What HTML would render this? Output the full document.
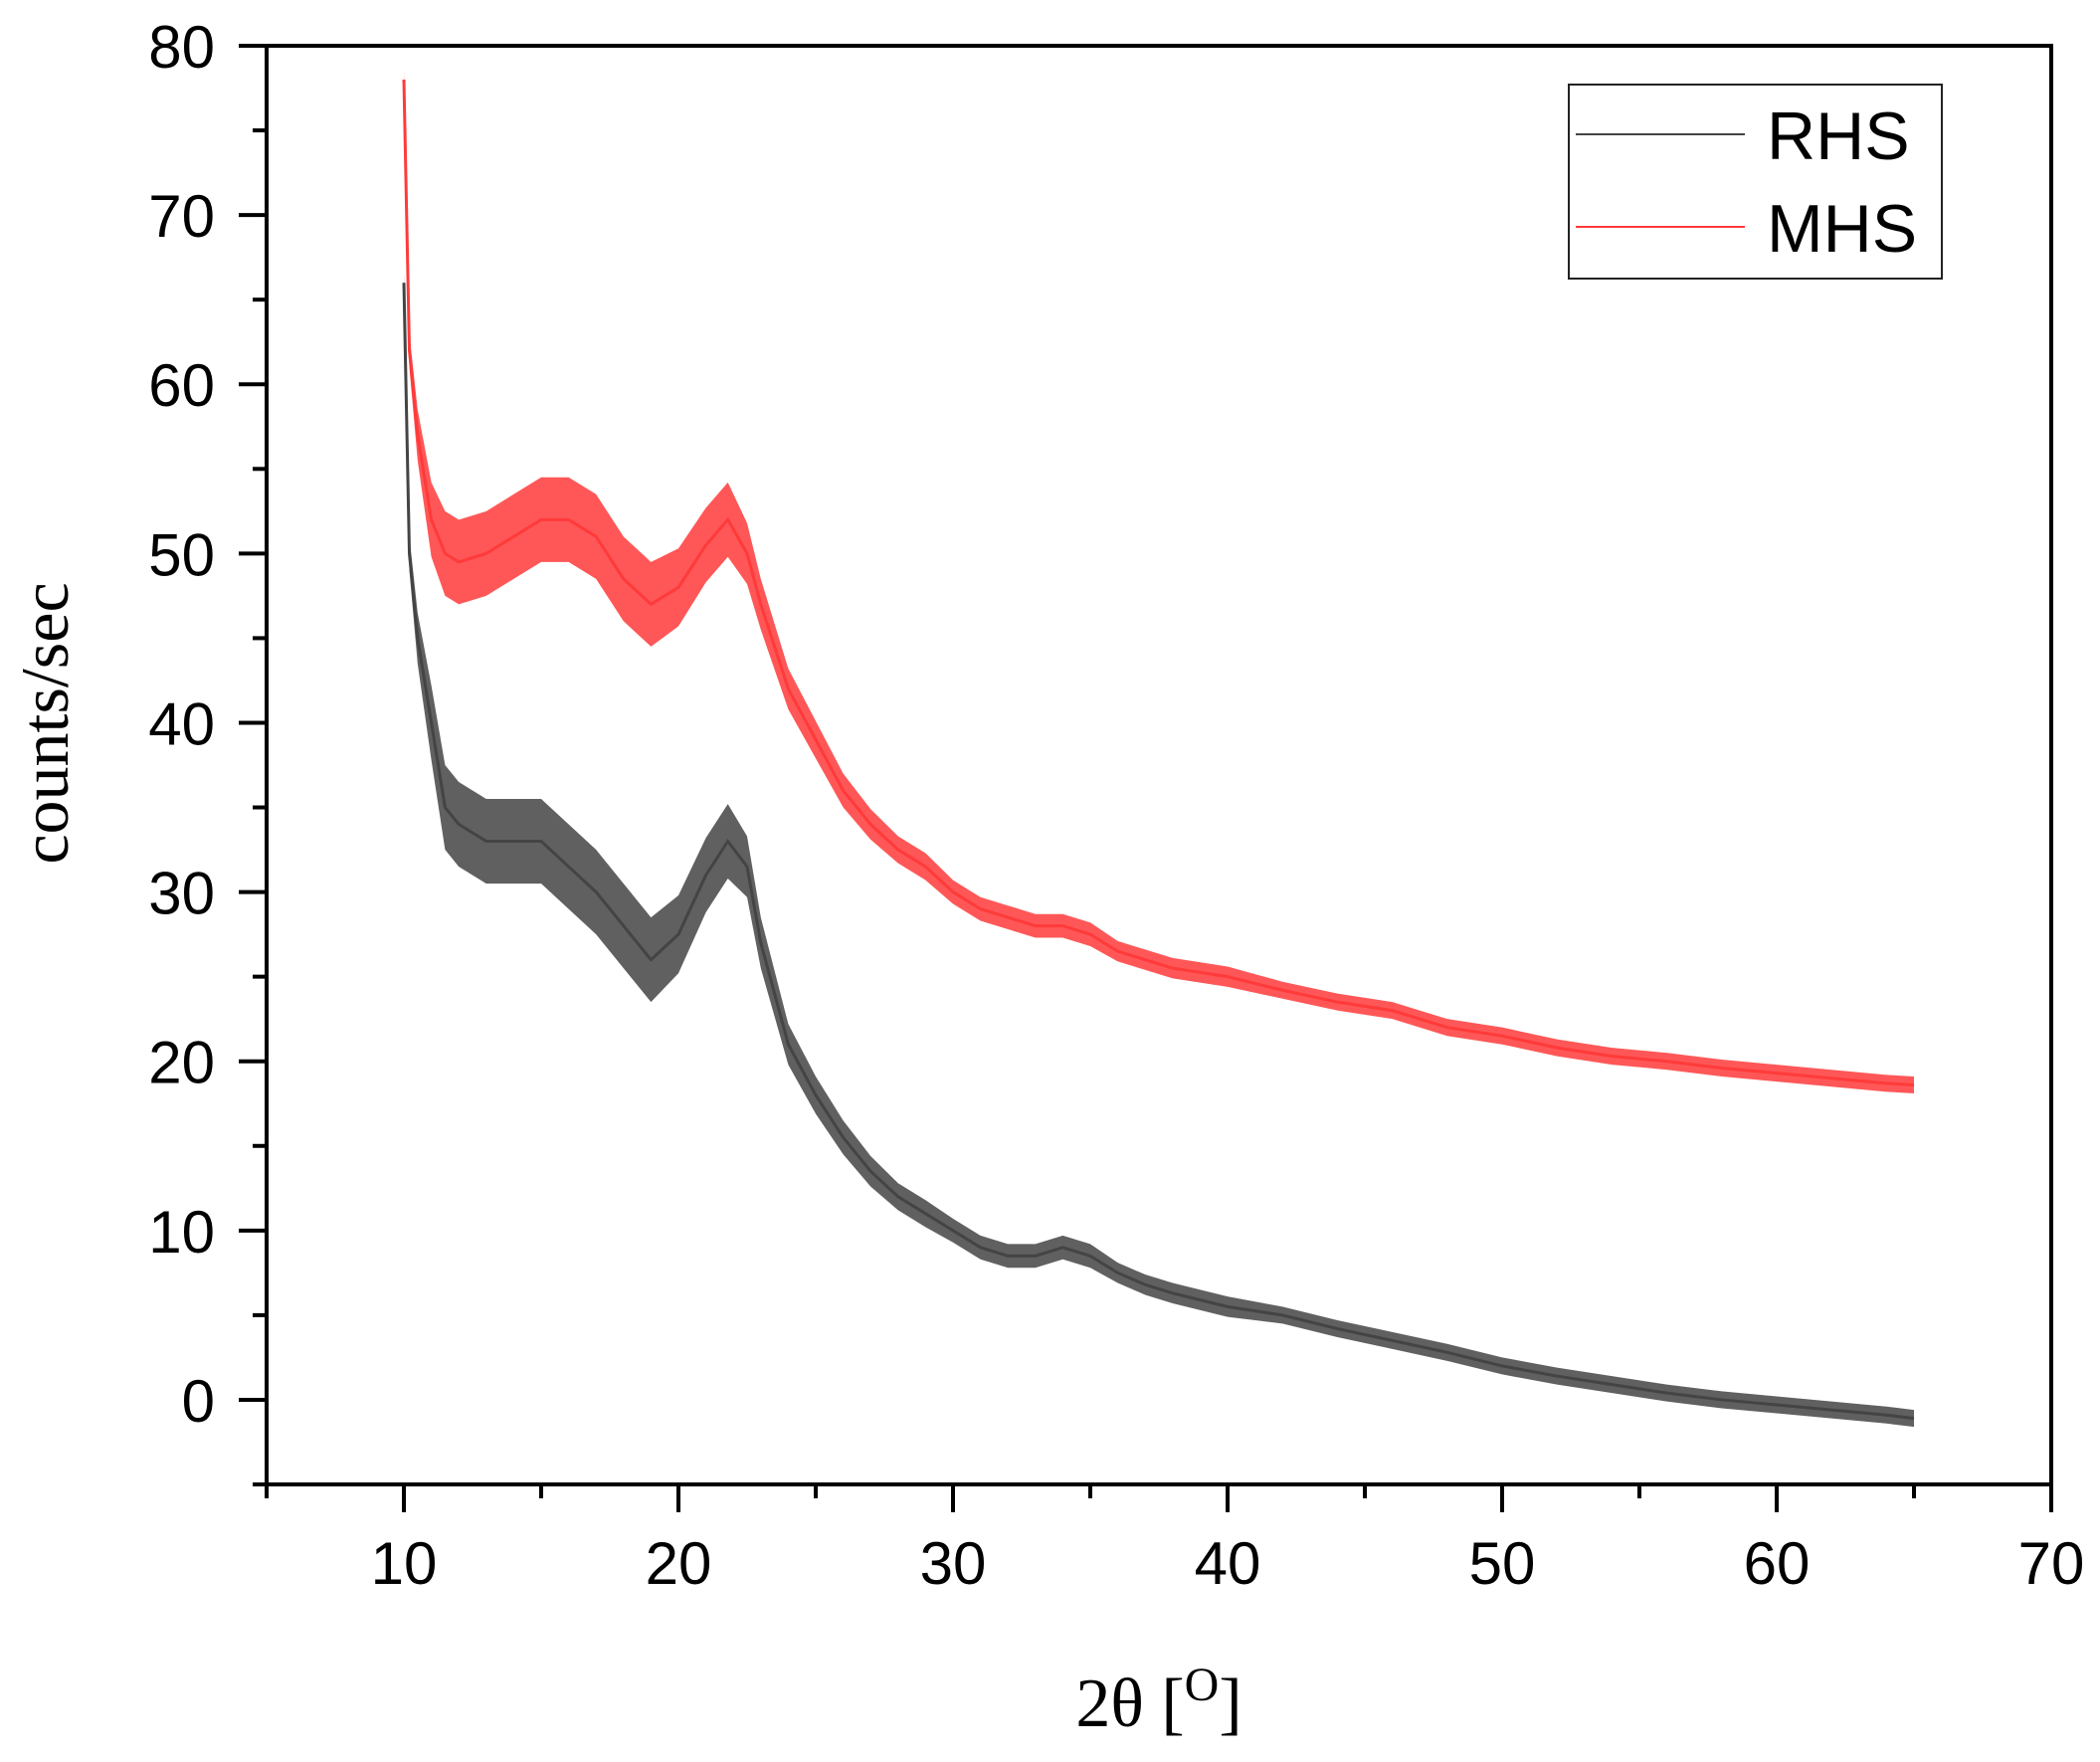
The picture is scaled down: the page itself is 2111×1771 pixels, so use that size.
<!DOCTYPE html>
<html><head><meta charset="utf-8"><style>
html,body{margin:0;padding:0;background:#fff}
svg{display:block}
</style></head><body>
<svg id="chart" width="2111" height="1771" viewBox="0 0 2111 1771" xmlns="http://www.w3.org/2000/svg">
<g id="series"></g>
<g id="axes"></g>
<g>
<rect x="1577" y="85" width="375" height="195" fill="none" stroke="#222" stroke-width="2"/>
<line x1="1584" y1="135" x2="1754" y2="135" stroke="#444" stroke-width="2"/>
<text x="1776" y="160" font-family="Liberation Sans, sans-serif" font-size="68" fill="#000">RHS</text>
<line x1="1584" y1="228" x2="1754" y2="228" stroke="#ff3a3a" stroke-width="2"/>
<text x="1776" y="253" font-family="Liberation Sans, sans-serif" font-size="68" fill="#000">MHS</text>
</g>
<text transform="translate(68,727) rotate(-90)" text-anchor="middle" font-family="Liberation Serif, serif" font-size="68" fill="#000">counts/sec</text>
<text x="1165" y="1735" text-anchor="middle" font-family="Liberation Serif, serif" font-size="70" fill="#000">2θ [<tspan font-size="48" dy="-26">O</tspan><tspan dy="26">]</tspan></text>
</svg>
<script>
const xTicks = [10,20,30,40,50,60,70];
const yTicks = [0,10,20,30,40,50,60,70,80];
const xs = [10,10.2,10.5,11,11.5,12,13,14,15,16,17,18,19,20,21,21.8,22.5,23,24,25,26,27,28,29,30,31,32,33,34,35,36,37,38,40,42,44,46,48,50,52,54,56,58,60,62,64,65];
const rhs = [66,50,45,40,35,34,33,33,33,31.5,30,28,26,27.5,31,33,31.5,27,21,18,15.5,13.5,12,11,10,9,8.5,8.5,9,8.5,7.5,6.8,6.3,5.5,5,4.2,3.5,2.8,2,1.4,0.9,0.4,0,-0.3,-0.6,-0.9,-1.1];
const mhs = [78,62,57,52,50,49.5,50,51,52,52,51,48.5,47,48,50.5,52,50,47,42,39,36,34,32.5,31.5,30,29,28.5,28,28,27.5,26.5,26,25.5,25,24.2,23.5,23,22,21.5,20.8,20.3,20,19.6,19.3,19,18.7,18.6];
const spread = [0.5,1,1.5,2.2,2.5,2.5,2.5,2.5,2.5,2.5,2.5,2.5,2.5,2.3,2.2,2.2,1.8,1.5,1.2,1.1,1,0.9,0.8,0.8,0.7,0.7,0.7,0.7,0.7,0.7,0.6,0.6,0.6,0.6,0.5,0.5,0.5,0.5,0.5,0.5,0.5,0.5,0.5,0.5,0.5,0.5,0.5];

const X0=5,X1=70,Y0=-5,Y1=80;
const PL=268,PR=2062,PT=46,PB=1492;
const sx=v=>PL+(v-X0)/(X1-X0)*(PR-PL);
const sy=v=>PB-(v-Y0)/(Y1-Y0)*(PB-PT);
const NS='http://www.w3.org/2000/svg';
const mk=(t,a)=>{const e=document.createElementNS(NS,t);for(const k in a)e.setAttribute(k,a[k]);return e;};
const axes=document.getElementById('axes'), ser=document.getElementById('series');

function drawSeries(vals,color,name){
  let up='',dn='';
  for(let i=0;i<xs.length;i++){up+=(i?'L':'M')+sx(xs[i])+','+sy(vals[i]+spread[i]);}
  for(let i=xs.length-1;i>=0;i--){dn+='L'+sx(xs[i])+','+sy(vals[i]-spread[i]);}
  const band=mk('path',{d:up+dn+'Z',fill:color,'fill-opacity':'0.85'});
  
  
  ser.appendChild(band);
  let d='';
  for(let i=0;i<xs.length;i++){d+=(i?'L':'M')+sx(xs[i])+','+sy(vals[i]);}
  const ln=mk('path',{d:d,fill:'none',stroke:color,'stroke-width':3});
  
  
  ser.appendChild(ln);
}
drawSeries(mhs,'#ff3a3a','mhs');
drawSeries(rhs,'#444444','rhs');

const frame=mk('rect',{x:PL,y:PT,width:PR-PL,height:PB-PT,fill:'none',stroke:'#000','stroke-width':4});


axes.appendChild(frame);

for(let v=5;v<=70;v+=5){
  const major=v%10===0;
  const t=mk('line',{x1:sx(v),x2:sx(v),y1:PB,y2:PB+(major?28:14),stroke:'#000','stroke-width':4});
  
  
  axes.appendChild(t);
}
for(let v=-5;v<=80;v+=5){
  const major=v%10===0;
  const t=mk('line',{x1:PL-(major?28:14),x2:PL,y1:sy(v),y2:sy(v),stroke:'#000','stroke-width':4});
  
  
  axes.appendChild(t);
}
xTicks.forEach(v=>{
  const t=mk('text',{x:sx(v),y:1592,'text-anchor':'middle','font-family':'Liberation Sans, sans-serif','font-size':60,fill:'#000'});
  t.textContent=v;
  
  
  axes.appendChild(t);
});
yTicks.forEach(v=>{
  const t=mk('text',{x:216,y:sy(v)+22,'text-anchor':'end','font-family':'Liberation Sans, sans-serif','font-size':60,fill:'#000'});
  t.textContent=v;
  
  
  axes.appendChild(t);
});
</script>
</body></html>
